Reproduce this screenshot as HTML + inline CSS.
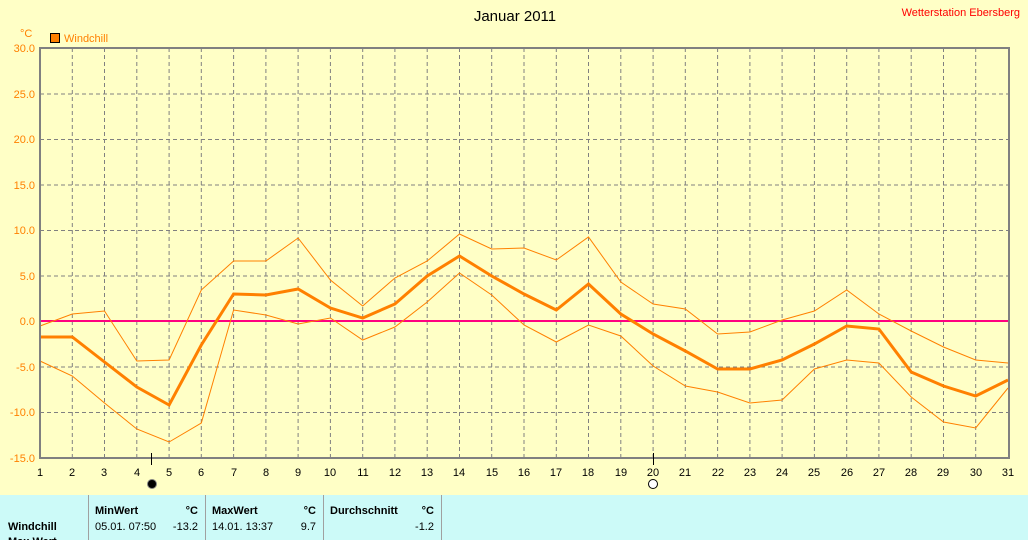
<!DOCTYPE html>
<html><head><meta charset="utf-8"><style>
body{margin:0;width:1028px;height:540px;overflow:hidden;background:#ffffc6;font-family:"Liberation Sans",sans-serif}
svg{display:block}
</style></head><body>
<svg width="1028" height="540" xmlns="http://www.w3.org/2000/svg" font-family="Liberation Sans, sans-serif">
<rect width="1028" height="540" fill="#ffffc6"/>
<text x="515" y="21" font-size="15" text-anchor="middle" fill="#000">Januar 2011</text>
<text x="1020" y="16" font-size="11" text-anchor="end" fill="#ff0000">Wetterstation Ebersberg</text>
<text x="20" y="37" font-size="11" fill="#ff8000">°C</text>
<rect x="50.5" y="33.5" width="9" height="9" fill="#ff8000" stroke="#000"/>
<text x="64" y="42" font-size="11" fill="#ff8000">Windchill</text>
<g id="grid" stroke="#808080" stroke-dasharray="4,3" stroke-width="1">
<script>/*placeholder*/</script>
</g>
<g stroke="#808080" stroke-width="1" stroke-dasharray="4,3" fill="none">
<path d="M40 94H1009M40 139.5H1009M40 185H1009M40 230.5H1009M40 276H1009M40 367H1009M40 412.5H1009"/>
<path d="M72.3 48V458M104.5 48V458M136.8 48V458M169.1 48V458M201.3 48V458M233.6 48V458M265.9 48V458M298.1 48V458M330.4 48V458M362.7 48V458M394.9 48V458M427.2 48V458M459.5 48V458M491.7 48V458M524 48V458M556.3 48V458M588.5 48V458M620.8 48V458M653.1 48V458M685.3 48V458M717.6 48V458M749.9 48V458M782.1 48V458M814.4 48V458M846.7 48V458M878.9 48V458M911.2 48V458M943.5 48V458M975.7 48V458"/>
</g>
<line x1="40" y1="321" x2="1009" y2="321" stroke="#ff0080" stroke-width="2"/>
<polyline fill="none" stroke="#ff8000" stroke-width="1" points="40,326 72.3,314 104.5,311 136.8,361 169.1,360 201.3,290 233.6,261 265.9,261 298.1,238 330.4,280 362.7,306 394.9,278 427.2,261 459.5,234 491.7,249 524,248 556.3,260 588.5,237 620.8,282 653.1,304 685.3,309 717.6,334 749.9,332 782.1,320 814.4,311 846.7,290 878.9,314 911.2,331 943.5,347 975.7,360 1008,363"/>
<polyline fill="none" stroke="#ff8000" stroke-width="1" points="40,361 72.3,376 104.5,403 136.8,429 169.1,442 201.3,423 233.6,310 265.9,315 298.1,324 330.4,318 362.7,340 394.9,327 427.2,302 459.5,273 491.7,295 524,325 556.3,342 588.5,325 620.8,336 653.1,366 685.3,386 717.6,392 749.9,403 782.1,400 814.4,369 846.7,360 878.9,363 911.2,397 943.5,422 975.7,428 1008,388"/>
<polyline fill="none" stroke="#ff8000" stroke-width="3" points="40,337 72.3,337 104.5,362 136.8,387 169.1,405 201.3,345 233.6,294 265.9,295 298.1,289 330.4,308 362.7,318 394.9,304 427.2,276 459.5,256 491.7,276 524,294 556.3,310 588.5,284 620.8,314 653.1,334 685.3,351 717.6,369 749.9,369 782.1,360 814.4,344 846.7,326 878.9,329 911.2,372 943.5,386 975.7,396 1008,380"/>
<rect x="40" y="48" width="969" height="410" fill="none" stroke="#808080" stroke-width="2"/>
<g font-size="11" fill="#ff8000" text-anchor="end">
<text x="35" y="52">30.0</text><text x="35" y="98">25.0</text><text x="35" y="143">20.0</text><text x="35" y="189">15.0</text><text x="35" y="234">10.0</text><text x="35" y="280">5.0</text><text x="35" y="325">0.0</text><text x="35" y="371">-5.0</text><text x="35" y="416">-10.0</text><text x="35" y="462">-15.0</text>
</g>
<g stroke="#000" stroke-width="1"><path d="M151.5 453V465M653.5 453V465"/></g>
<g font-size="11" fill="#000" text-anchor="middle">
<text x="40" y="476">1</text><text x="72" y="476">2</text><text x="104" y="476">3</text><text x="137" y="476">4</text><text x="169" y="476">5</text><text x="201" y="476">6</text><text x="234" y="476">7</text><text x="266" y="476">8</text><text x="298" y="476">9</text><text x="330" y="476">10</text><text x="363" y="476">11</text><text x="395" y="476">12</text><text x="427" y="476">13</text><text x="459" y="476">14</text><text x="492" y="476">15</text><text x="524" y="476">16</text><text x="556" y="476">17</text><text x="588" y="476">18</text><text x="621" y="476">19</text><text x="653" y="476">20</text><text x="685" y="476">21</text><text x="718" y="476">22</text><text x="750" y="476">23</text><text x="782" y="476">24</text><text x="814" y="476">25</text><text x="847" y="476">26</text><text x="879" y="476">27</text><text x="911" y="476">28</text><text x="943" y="476">29</text><text x="976" y="476">30</text><text x="1008" y="476">31</text>
</g>
<circle cx="152" cy="484" r="4.5" fill="#000" stroke="#808080"/>
<circle cx="653" cy="484" r="4.5" fill="#fff" stroke="#000"/>
<rect x="0" y="495" width="1028" height="45" fill="#ccfaf8"/>
<g stroke="#a0a0a0" stroke-width="1"><path d="M88.5 495V540M205.5 495V540M323.5 495V540M441.5 495V540"/></g>
<g font-size="11" fill="#000">
<text x="95" y="514" font-weight="bold">MinWert</text><text x="198" y="514" font-weight="bold" text-anchor="end">°C</text>
<text x="212" y="514" font-weight="bold">MaxWert</text><text x="316" y="514" font-weight="bold" text-anchor="end">°C</text>
<text x="330" y="514" font-weight="bold">Durchschnitt</text><text x="434" y="514" font-weight="bold" text-anchor="end">°C</text>
<text x="8" y="530" font-weight="bold">Windchill</text>
<text x="95" y="530">05.01.  07:50</text><text x="198" y="530" text-anchor="end">-13.2</text>
<text x="212" y="530">14.01.  13:37</text><text x="316" y="530" text-anchor="end">9.7</text>
<text x="434" y="530" text-anchor="end">-1.2</text>
<text x="8" y="545" font-weight="bold">Max.Wert</text>
</g>
</svg>
</body></html>
